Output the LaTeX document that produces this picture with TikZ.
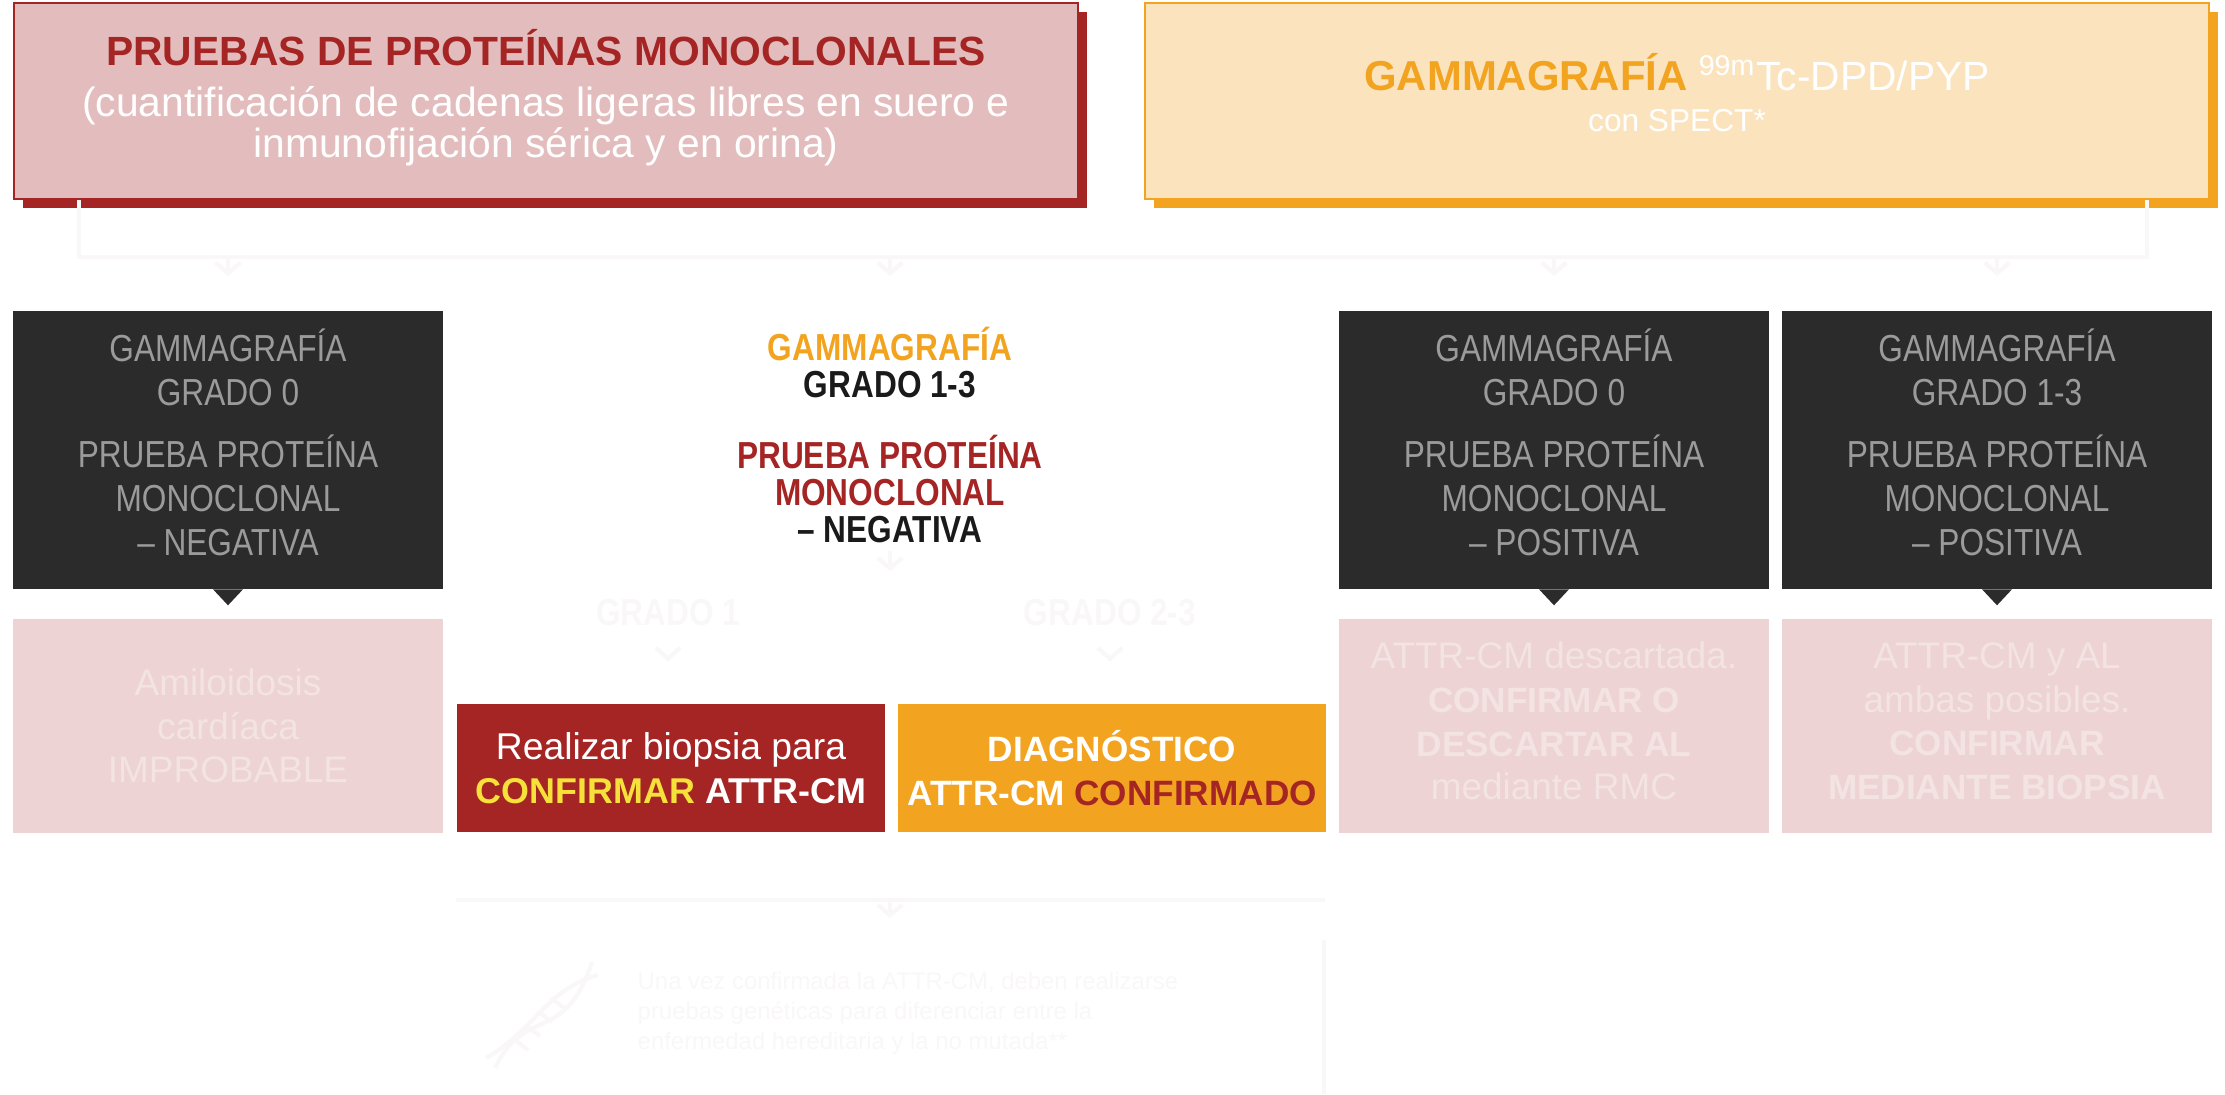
\documentclass[tikz,border=0pt]{standalone}
\usepackage{fontspec}
\setmainfont{Liberation Sans}
\newfontfamily\condfont{Liberation Sans}[FakeStretch=0.84]
\usepackage{xcolor}
\usetikzlibrary{
    arrows.meta,
    shadows
}

\definecolor{drred}{HTML}{A52525}
\definecolor{pinkface}{HTML}{E3BDBD}
\definecolor{orng}{HTML}{F2A31F}
\definecolor{orngface}{HTML}{FBE4BD}
\definecolor{darkfill}{HTML}{2B2B2B}
\definecolor{greytxt}{HTML}{9B9B9B}
\definecolor{pinkfill}{HTML}{EDD3D4}
\definecolor{pinktxt}{HTML}{F3E3E3}
\definecolor{yell}{HTML}{F6E03A}
\definecolor{inkblack}{HTML}{1A1A1A}
\definecolor{faint}{HTML}{F9F7F7}

\newcommand{\fs}[2]{\fontsize{#1}{#2}\selectfont}

\begin{document}
\begin{tikzpicture}[x=0.01cm, y=-0.01cm, >={Straight Barb[length=3pt,width=7pt]}]
    \tikzstyle{topbox}=[minimum width=10.64cm, minimum height=1.96cm, align=center, inner sep=0pt, line width=0.6pt]
    \tikzstyle{darkbox}=[fill=darkfill, text=greytxt, minimum width=4.29cm, minimum height=2.77cm, align=center, inner sep=0pt, text depth=0.16cm, font=\condfont\fs{10.7pt}{12.5pt}]
    \tikzstyle{pinkbox}=[fill=pinkfill, text=pinktxt, minimum width=4.29cm, minimum height=2.14cm, align=center, inner sep=0pt, font=\fs{10.5pt}{12.4pt}]
    \tikzstyle{resbox}=[minimum width=4.27cm, minimum height=1.28cm, align=center, inner sep=0pt, text=white, font=\fs{10.6pt}{12.5pt}]
    \tikzstyle{faintline}=[draw=faint, line width=1.2pt]
    \tikzstyle{faintlabel}=[text=faint, font=\condfont\bfseries\fs{10.7pt}{12pt}]
    \useasboundingbox (0,0) rectangle (2225,1094);

    % top tests
    \node [topbox, fill=pinkface, draw=drred, text=white, text depth=0.15cm, font=\fs{11.6pt}{11.7pt},
        drop shadow={shadow xshift=0.09cm, shadow yshift=-0.09cm, fill=drred, opacity=1}] (tl) at (546,101)
        {{\bfseries\color{drred}\fs{11.6pt}{11.7pt}PRUEBAS DE PROTEÍNAS MONOCLONALES}\\[2.8pt]
         (cuantificación de cadenas ligeras libres en suero e\\
         inmunofijación sérica y en orina)};
    \node [topbox, fill=orngface, draw=orng, text=white, text depth=0.17cm, font=\fs{11.6pt}{11.7pt},
        drop shadow={shadow xshift=0.09cm, shadow yshift=-0.09cm, fill=orng, opacity=1}] (tr) at (1677,101)
        {{\bfseries\color{orng}\fs{11.9pt}{11.7pt}GAMMAGRAFÍA} \textsuperscript{99m}Tc-DPD/PYP\\
         {\fs{9pt}{11.7pt}con SPECT*}};

    % faint bracket under the tests
    \coordinate (barL) at (79,257);
    \coordinate (barR) at (2147,257);
    \draw [faintline] (tl.south -| barL) -- (barL) -- (barR) -- (tr.south -| barR);

    % results
    \node [darkbox] (d1) at (228,450) {GAMMAGRAFÍA\\GRADO 0\\[5pt]PRUEBA PROTEÍNA\\MONOCLONAL\\– NEGATIVA};
    \node [align=center, inner sep=0pt, font=\condfont\bfseries\fs{10.7pt}{10.5pt}] (mid) at (890,435)
        {\color{orng}GAMMAGRAFÍA\\\color{inkblack}GRADO 1-3\\[9.5pt]
         \color{drred}PRUEBA PROTEÍNA\\\color{drred}MONOCLONAL\\\color{inkblack}– NEGATIVA};
    \node [darkbox] (d3) at (1554,450) {GAMMAGRAFÍA\\GRADO 0\\[5pt]PRUEBA PROTEÍNA\\MONOCLONAL\\– POSITIVA};
    \node [darkbox] (d4) at (1997,450) {GAMMAGRAFÍA\\GRADO 1-3\\[5pt]PRUEBA PROTEÍNA\\MONOCLONAL\\– POSITIVA};

    \foreach \n in {d1,mid,d3,d4}
        \draw [faintline, ->, shorten >=0.36cm] (barL -| \n) -- (\n.north |- 0,312);

    % pointers of the dark boxes
    \foreach \n in {d1,d3,d4}
        \fill [darkfill] ([xshift=-0.15cm]\n.south) -- ([yshift=-0.16cm]\n.south) -- ([xshift=0.15cm]\n.south) -- cycle;

    % conclusions
    \node [pinkbox] (p1) at (228,726) {Amiloidosis\\cardíaca\\IMPROBABLE};
    \node [pinkbox, text depth=0.1cm] (p3) at (1554,726) {ATTR-CM descartada.\\{\bfseries\fs{10pt}{12.4pt}CONFIRMAR O}\\{\bfseries\fs{10pt}{12.4pt}DESCARTAR AL}\\mediante RMC};
    \node [pinkbox, text depth=0.1cm] (p4) at (1997,726) {ATTR-CM y AL\\ambas posibles.\\{\bfseries\fs{10pt}{12.4pt}CONFIRMAR}\\{\bfseries\fs{10pt}{12.4pt}MEDIANTE BIOPSIA}};

    \node [faintlabel] (g1) at (668,613) {GRADO 1};
    \node [faintlabel] (g23) at (1110,613) {GRADO 2-3};
    \node [resbox, fill=drred] (biop) at (671,768)
        {Realizar biopsia para\\{\bfseries\fs{10.2pt}{12.5pt}\color{yell}CONFIRMAR} {\bfseries\fs{10.2pt}{12.5pt}ATTR-CM}};
    \node [resbox, fill=orng, font=\bfseries\fs{10pt}{12.5pt}] (diag) at (1112,768)
        {DIAGNÓSTICO\\ATTR-CM {\color{drred}CONFIRMADO}};

    \draw [faintline, ->] (mid.south) ++(0,8) -- ++(0,20);
    \draw [faintline, ->, shorten <=0.22cm, shorten >=0.42cm] (g1) -- (biop.north -| g1);
    \draw [faintline, ->, shorten <=0.22cm, shorten >=0.42cm] (g23) -- (diag.north -| g23);

    % genetic note
    \coordinate (botL) at (456,900);
    \coordinate (botR) at (1325,900);
    \draw [faintline] (botL) -- (botR);
    \draw [faintline, ->] (botL -| mid) -- ++(0,18);
    \draw [faintline] (1324,940) -- (1324,1094);
    \draw [faintline] (495,1068) .. controls (525,1005) and (565,1045) .. (592,962);
    \draw [faintline] (486,1058) .. controls (535,1030) and (545,990) .. (598,975);
    \foreach \t in {0,1,2,3}
        \draw [faintline] (515+\t*12,1040-\t*14) -- (528+\t*12,1050-\t*14);
    \node [anchor=west, align=left, text=faint, inner sep=0pt, font=\fs{6.8pt}{8.5pt}] (note) at (637,1013)
        {Una vez confirmada la ATTR-CM, deben realizarse\\
         pruebas genéticas para diferenciar entre la\\
         enfermedad hereditaria y la no mutada**};
\end{tikzpicture}
\end{document}
